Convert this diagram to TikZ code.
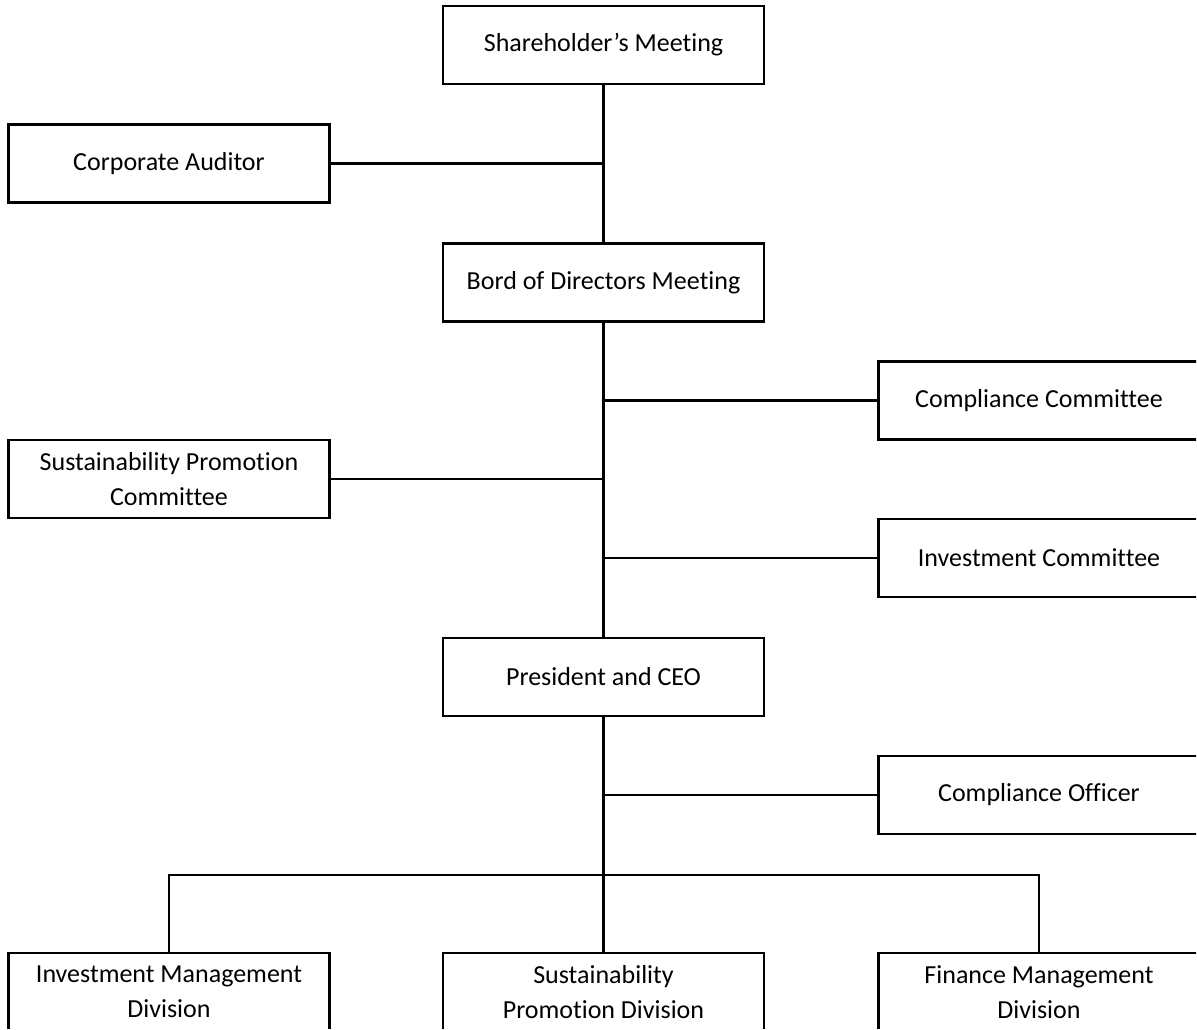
\documentclass[tikz,border=0pt]{standalone}
\usepackage{fontspec}
\setmainfont{Carlito}[Ligatures=NoCommon]
\usepackage{tikz}

\tikzset{
  orgbox/.style={draw, rectangle, line width=2.4pt, minimum width=321pt,
    minimum height=78pt, align=center, inner sep=0pt,
    font=\fontsize{26}{35}\selectfont},
  orgline/.style={line width=2.2pt}
}

\begin{document}
\begin{tikzpicture}[x=1pt, y=1pt]

    \useasboundingbox (0,0) rectangle (1197,-1029);
    \clip (0,0) rectangle (1196,-1028);

    \node[orgbox] (share) at (603.5,-45) {Shareholder’s Meeting};
    \node[orgbox] (audit) at (169,-163.5) {Corporate Auditor};
    \node[orgbox] (board) at (603.5,-282.5) {Bord of Directors Meeting};

    \node[orgbox] (compcom) at (1039,-400.5) {Compliance Committee};
    \node[orgbox] (suscom) at (169,-479) {Sustainability Promotion\\Committee};
    \node[orgbox] (invcom) at (1039,-558) {Investment Committee};

    \node[orgbox] (ceo) at (603.5,-677) {President and CEO};
    \node[orgbox] (compoff) at (1039,-795) {Compliance Officer};

    \begin{scope}[yshift=-992pt]
      \node[orgbox] (invdiv) at (169,0) {Investment Management\\Division};
      \node[orgbox] (susdiv) at (603.5,0) {Sustainability\\Promotion Division};
      \node[orgbox] (findiv) at (1039,0) {Finance Management\\Division};
    \end{scope}

    \coordinate (bus) at (603.5,-875);

    \draw[orgline] (share) -- (board);
    \draw[orgline] (board) -- (ceo);
    \draw[orgline] (ceo) -- (susdiv);

    \draw[orgline] (audit.east) -- (audit.east -| share.south);
    \draw[orgline] (compcom.west) -- (compcom.west -| board.south);
    \draw[orgline] (suscom.east) -- (suscom.east -| board.south);
    \draw[orgline] (invcom.west) -- (invcom.west -| board.south);
    \draw[orgline] (compoff.west) -- (compoff.west -| ceo.south);

    \draw[orgline] (invdiv.north) |- (bus) -| (findiv.north);

  \end{tikzpicture}
\end{document}
